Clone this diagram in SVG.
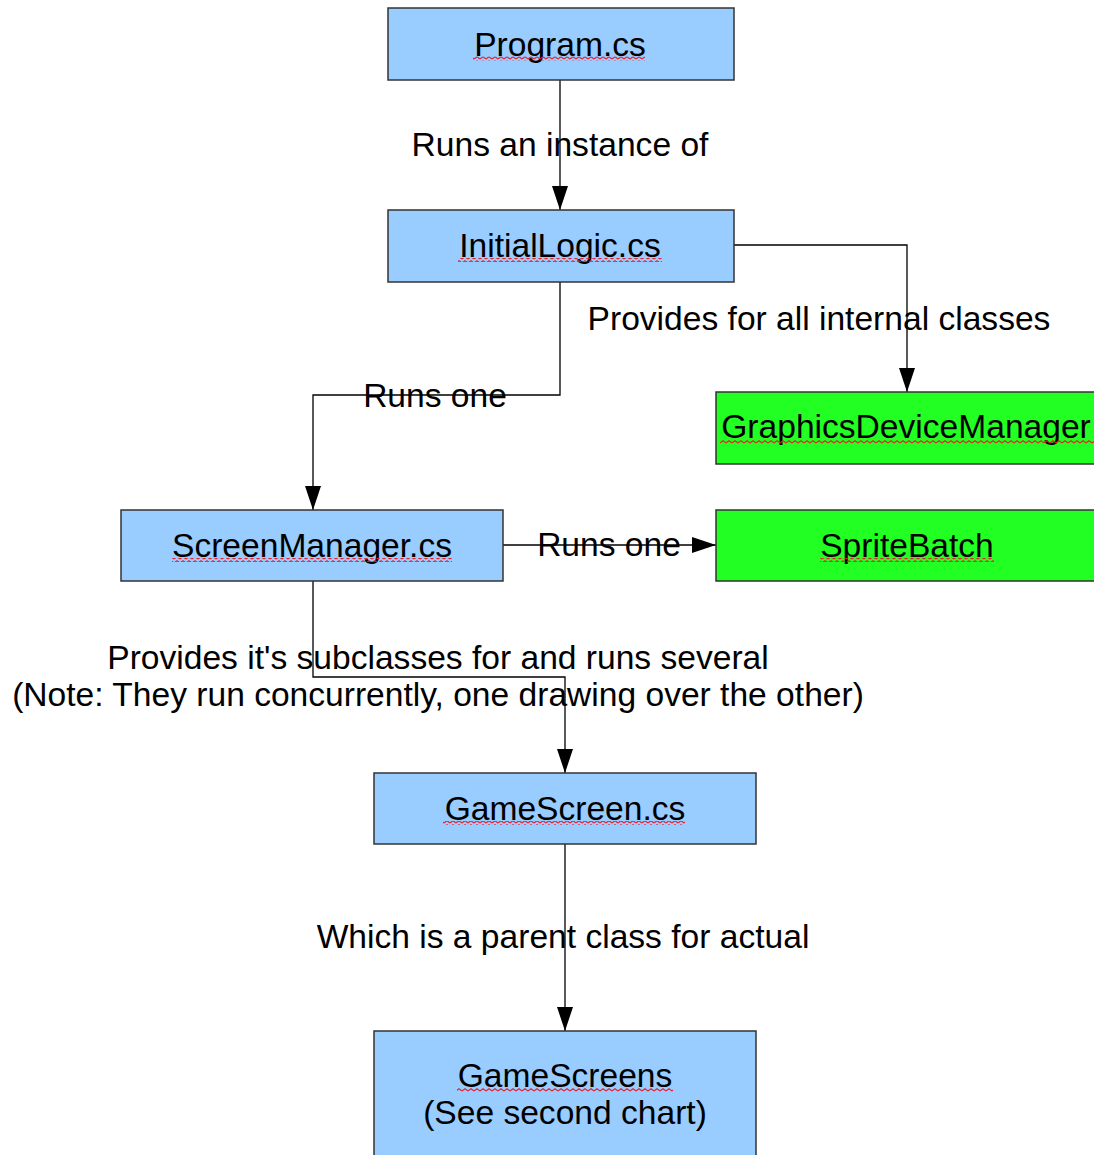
<svg xmlns="http://www.w3.org/2000/svg" width="1094" height="1155" viewBox="0 0 1094 1155">
<style>
text{font-family:"Liberation Sans",Arial,sans-serif;font-size:33.6px;fill:#000;text-anchor:middle}
.blue{fill:#99ccff;stroke:#333;stroke-width:1.5}
.green{fill:#22ff22;stroke:#333;stroke-width:1.5}
.conn{fill:none;stroke:#000;stroke-width:1.3}
.sq{fill:url(#squiggle)}
</style>
<defs>
<marker id="arrow" markerUnits="userSpaceOnUse" markerWidth="24" markerHeight="16" refX="24" refY="8" viewBox="0 0 24 16" orient="auto">
<path d="M0,0 L24,8 L0,16 Z" fill="#000"/>
</marker>
<pattern id="squiggle" patternUnits="userSpaceOnUse" x="0" y="0" width="6" height="4">
<path d="M0,3 L3,0.8 L6,3" fill="none" stroke="#e8202a" stroke-width="1.1"/>
</pattern>
</defs>
<g id="connectors">
<path class="conn" d="M560,80 L560,210" marker-end="url(#arrow)"/>
<path class="conn" d="M734,245 L907,245 L907,392" marker-end="url(#arrow)"/>
<path class="conn" d="M560,282 L560,395 L313,395 L313,510" marker-end="url(#arrow)"/>
<path class="conn" d="M503,545 L716,545" marker-end="url(#arrow)"/>
<path class="conn" d="M313,581 L313,677 L565,677 L565,773" marker-end="url(#arrow)"/>
<path class="conn" d="M565,844 L565,1031" marker-end="url(#arrow)"/>
<text x="560" y="156">Runs an instance of</text>
<text x="819" y="330">Provides for all internal classes</text>
<text x="435" y="407">Runs one</text>
<text x="609" y="556">Runs one</text>
<text x="438" y="669">Provides it's subclasses for and runs several</text>
<text x="438" y="706">(Note: They run concurrently, one drawing over the other)</text>
<text x="563" y="948">Which is a parent class for actual</text>
</g>
<g id="program">
<rect class="blue" x="388" y="8" width="346" height="72"/>
<text x="560" y="56">Program.cs</text>
<rect class="sq" x="473" y="56.5" width="172" height="4"/>
</g>
<g id="initiallogic">
<rect class="blue" x="388" y="210" width="346" height="72"/>
<text x="560" y="257">InitialLogic.cs</text>
<rect class="sq" x="458" y="258" width="204" height="4"/>
</g>
<g id="graphicsdevicemanager">
<rect class="green" x="716" y="392" width="382" height="72"/>
<text x="906" y="438">GraphicsDeviceManager</text>
<rect class="sq" x="720" y="440" width="374" height="4"/>
</g>
<g id="screenmanager">
<rect class="blue" x="121" y="510" width="382" height="71"/>
<text x="312" y="557">ScreenManager.cs</text>
<rect class="sq" x="172" y="558" width="280" height="4"/>
</g>
<g id="spritebatch">
<rect class="green" x="716" y="510" width="382" height="71"/>
<text x="907" y="557">SpriteBatch</text>
<rect class="sq" x="820" y="558" width="174" height="4"/>
</g>
<g id="gamescreen">
<rect class="blue" x="374" y="773" width="382" height="71"/>
<text x="565" y="820">GameScreen.cs</text>
<rect class="sq" x="443" y="821" width="242" height="4"/>
</g>
<g id="gamescreens">
<rect class="blue" x="374" y="1031" width="382" height="140"/>
<text x="565" y="1087">GameScreens</text>
<text x="565" y="1124">(See second chart)</text>
<rect class="sq" x="457" y="1088" width="216" height="4"/>
</g>
</svg>
